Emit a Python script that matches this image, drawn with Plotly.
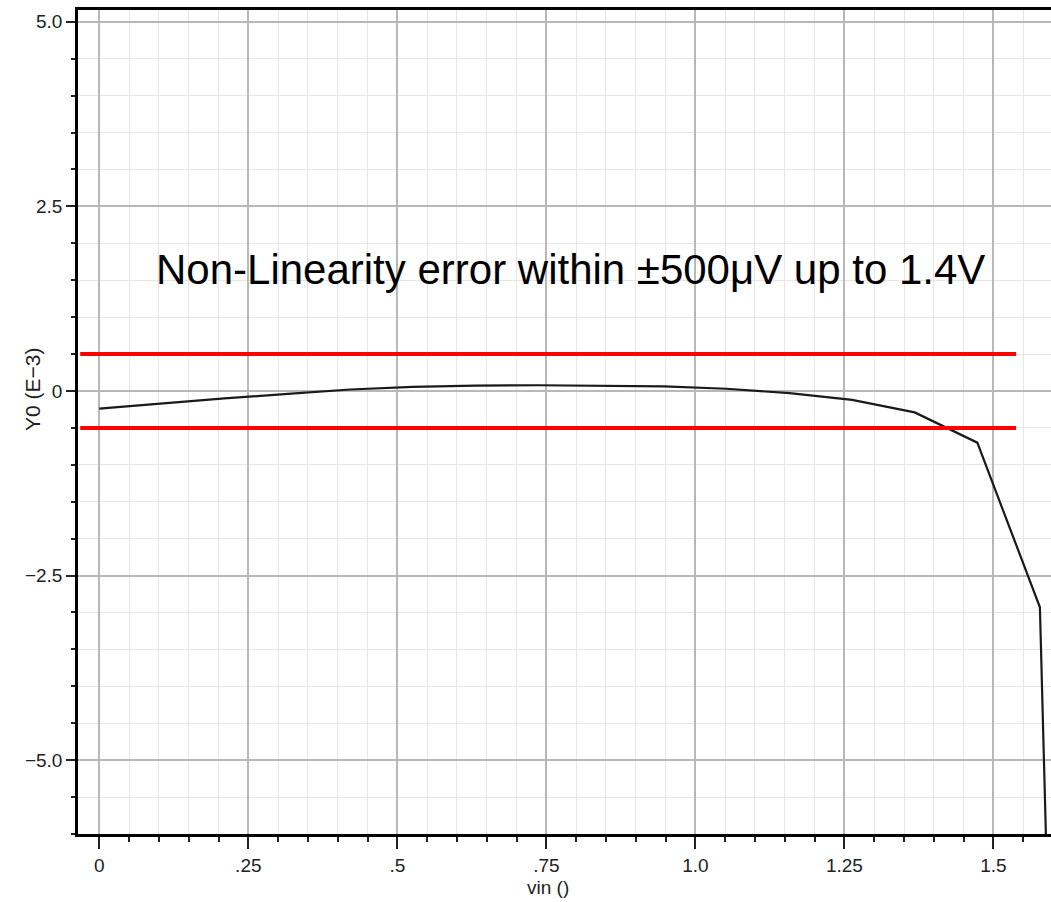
import plotly.graph_objects as go

# Data
vin = [0.0, 0.105, 0.210, 0.316, 0.421, 0.526, 0.631, 0.737, 0.842, 0.947,
       1.052, 1.158, 1.263, 1.368, 1.473, 1.578, 1.589]
y0 = [-0.24, -0.17, -0.10, -0.04, 0.02, 0.055, 0.072, 0.078, 0.075, 0.062,
      0.03, -0.03, -0.12, -0.29, -0.70, -2.93, -6.3]

limit_x = [-0.032, 1.538]
upper_limit = [0.5, 0.5]
lower_limit = [-0.5, -0.5]

x_tickvals = [0, 0.25, 0.5, 0.75, 1.0, 1.25, 1.5]
x_ticktext = ["0", ".25", ".5", ".75", "1.0", "1.25", "1.5"]
y_tickvals = [-5.0, -2.5, 0, 2.5, 5.0]
y_ticktext = ["\u22125.0", "\u22122.5", "0", "2.5", "5.0"]

annotation_text = "Non-Linearity error within \u00b1500\u03bcV up to 1.4V"
x_title = "vin ()"
y_title = "Y0 (E\u22123)"

FONT = "Liberation Sans, Arial"

fig = go.Figure()
fig.add_trace(go.Scatter(x=vin, y=y0, mode="lines",
                         line=dict(color="#1a1a1a", width=2.2), showlegend=False))
fig.add_trace(go.Scatter(x=limit_x, y=upper_limit, mode="lines",
                         line=dict(color="#ff0000", width=4), showlegend=False))
fig.add_trace(go.Scatter(x=limit_x, y=lower_limit, mode="lines",
                         line=dict(color="#ff0000", width=4), showlegend=False))

fig.add_annotation(x=0.791, y=1.64, xref="x", yref="y", text=annotation_text,
                   showarrow=False, font=dict(family=FONT, size=42, color="black"))
fig.add_annotation(x=0.483, y=-0.0655, xref="paper", yref="paper", text=x_title,
                   showarrow=False, font=dict(family=FONT, size=19, color="#222"),
                   xanchor="center", yanchor="middle")
fig.add_annotation(x=-0.0462, y=0.539, xref="paper", yref="paper", text=y_title,
                   showarrow=False, textangle=-90, font=dict(family=FONT, size=21, color="#222"),
                   xanchor="center", yanchor="middle")

tickfont = dict(family=FONT, size=19, color="#222")

fig.update_layout(
    width=1051, height=902,
    margin=dict(l=78, r=0, t=10, b=68),
    paper_bgcolor="white", plot_bgcolor="white",
    xaxis=dict(
        range=[-0.0357, 1.5966],
        tickvals=x_tickvals, ticktext=x_ticktext,
        ticks="outside", ticklen=12, tickwidth=1.5, tickcolor="#222",
        showgrid=True, gridcolor="#b8b8b8", gridwidth=1.5,
        showline=True, linecolor="black", linewidth=3, mirror=True,
        zeroline=False, tickfont=tickfont,
        minor=dict(dtick=0.05, tick0=0, showgrid=True, gridcolor="#e6e6e6", gridwidth=1,
                   ticks="outside", ticklen=5, tickcolor="#222", tickwidth=1.5),
    ),
    yaxis=dict(
        range=[-6.0, 5.16],
        tickvals=y_tickvals, ticktext=y_ticktext,
        ticks="outside", ticklen=9, tickwidth=1.5, tickcolor="#222",
        showgrid=True, gridcolor="#b8b8b8", gridwidth=1.5,
        showline=True, linecolor="black", linewidth=2.5, mirror=False,
        zeroline=False, tickfont=tickfont,
        minor=dict(dtick=0.5, tick0=0, showgrid=True, gridcolor="#e6e6e6", gridwidth=1,
                   ticks="outside", ticklen=4, tickcolor="#222", tickwidth=1.5),
    ),
)

fig.write_html("out.html", config={"displayModeBar": False},
               post_script="document.body.style.margin='0';document.body.style.overflow='hidden';")
